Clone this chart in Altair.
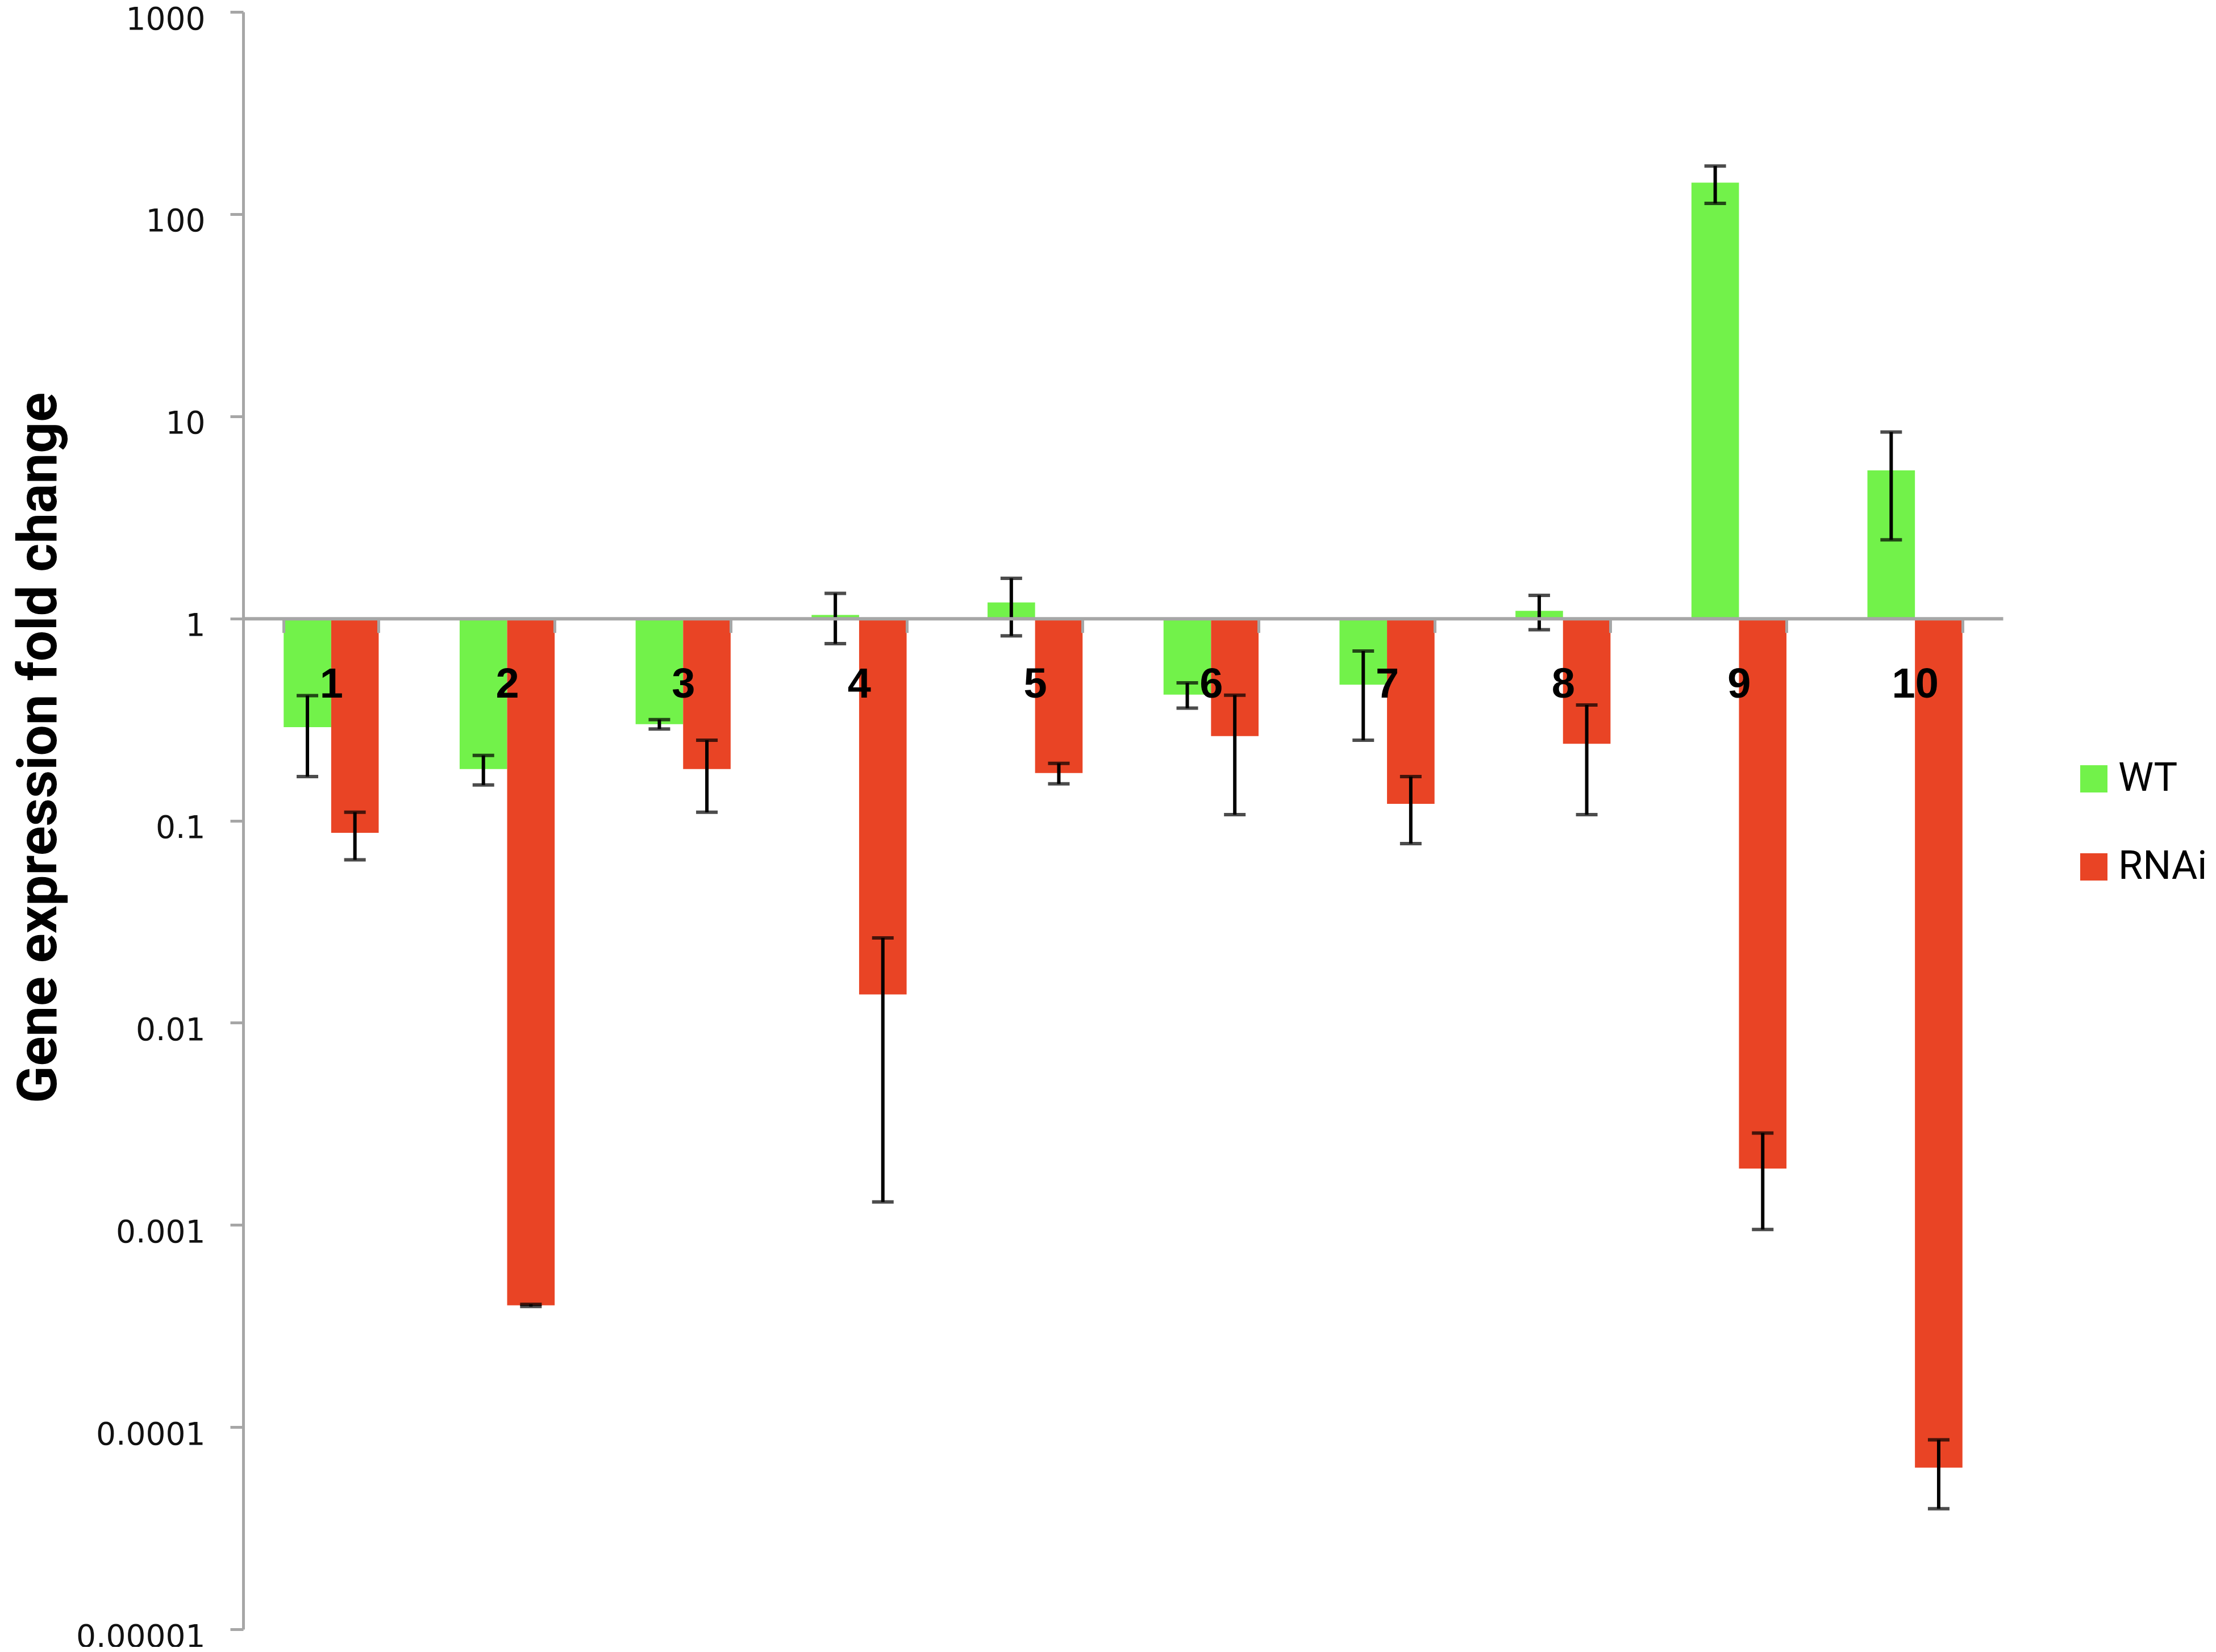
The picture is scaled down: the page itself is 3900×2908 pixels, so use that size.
import math
import altair as alt
import pandas as pd

# ---- data ----
categories = ["1", "2", "3", "4", "5", "6", "7", "8", "9", "10"]
series = ["WT", "RNAi"]
wt_values = [0.29, 0.18, 0.30, 1.04, 1.20, 0.42, 0.47, 1.09, 143, 5.4]
wt_errors = [0.125, 0.03, 0.016, 0.29, 0.38, 0.06, 0.22, 0.21, 30, 2.95]
rnai_values = [0.087, 0.0004, 0.18, 0.0138, 0.172, 0.262, 0.121, 0.24, 0.0019, 0.000063]
rnai_errors = [0.023, 0.000005, 0.07, 0.0125, 0.02, 0.155, 0.044, 0.133, 0.00095, 0.0000235]
y_ticks = [0.00001, 0.0001, 0.001, 0.01, 0.1, 1, 10, 100, 1000]
colors = ["#72F24A", "#E94425"]
y_title = "Gene expression fold change"

rows = []
for i, c in enumerate(categories):
    rows.append({"cat": c, "series": "WT", "value": wt_values[i], "err": wt_errors[i]})
    rows.append({"cat": c, "series": "RNAi", "value": rnai_values[i], "err": rnai_errors[i]})
df = pd.DataFrame(rows)
df["lo"] = df["value"] - df["err"]
df["hi"] = df["value"] + df["err"]

W, H = 3097, 2847
y_min, y_max = y_ticks[0], y_ticks[-1]
baseline = 1
axis_offset = -H * (math.log10(baseline) - math.log10(y_min)) / (math.log10(y_max) - math.log10(y_min))

GRAY = "#a6a6a6"

x_scale = alt.Scale(paddingInner=0.46, paddingOuter=0.23)
xoff = alt.XOffset("series:N", sort=series,
                   scale=alt.Scale(domain=series, paddingInner=0, paddingOuter=0))
y_scale = alt.Scale(type="log", domain=[y_min, y_max], nice=False)

x_axis = alt.Axis(
    title=None, orient="bottom", offset=axis_offset, tickBand="extent",
    labelAngle=0, labelFont="Liberation Sans", labelFontWeight="bold",
    labelFontSize=74, labelColor="black", labelPadding=56,
    tickSize=25, tickWidth=5, tickColor=GRAY,
    domainColor=GRAY, domainWidth=6, zindex=1,
)
y_axis = alt.Axis(
    values=y_ticks, format="~f", grid=False,
    title=y_title, titleFont="Roboto",
    titleFontWeight="bold", titleFontSize=96, titleColor="black",
    titleAngle=270, titleX=-330, titleY=1295, titleAlign="center",
    titleBaseline="alphabetic",
    labelFont="DejaVu Sans", labelFontSize=55, labelColor="#111111",
    labelPadding=44, labelOffset=13, labelLimit=1000,
    tickSize=23, tickWidth=5, tickColor=GRAY,
    domainColor=GRAY, domainWidth=5,
)

legend = alt.Legend(
    orient="none", legendX=3222, legendY=1315, title=None,
    symbolType="square", symbolSize=2304, symbolStrokeWidth=0,
    labelFont="Roboto", labelFontSize=70, labelColor="black",
    labelOffset=8, rowPadding=85, padding=0, labelLimit=1000,
)

x_enc = alt.X("cat:N", sort=categories, scale=x_scale, axis=x_axis)

bars = alt.Chart(df).mark_bar().encode(
    x=x_enc,
    xOffset=xoff,
    y=alt.Y("value:Q", scale=y_scale, axis=y_axis),
    y2=alt.datum(baseline),
    color=alt.Color("series:N", sort=series,
                    scale=alt.Scale(domain=series, range=colors), legend=legend),
)

err_rules = alt.Chart(df).mark_rule(color="black", strokeWidth=6).encode(
    x=x_enc,
    xOffset=xoff,
    y=alt.Y("lo:Q", scale=y_scale, axis=y_axis),
    y2="hi:Q",
)

cap_hi = alt.Chart(df).mark_tick(color="black", thickness=6, size=38, orient="horizontal").encode(
    x=x_enc,
    xOffset=xoff,
    y=alt.Y("hi:Q", scale=y_scale, axis=y_axis),
)
cap_lo = alt.Chart(df).mark_tick(color="black", thickness=6, size=38, orient="horizontal").encode(
    x=x_enc,
    xOffset=xoff,
    y=alt.Y("lo:Q", scale=y_scale, axis=y_axis),
)

chart = alt.layer(bars, err_rules, cap_hi, cap_lo).properties(
    width=W, height=H,
    padding={"left": 420, "top": 13, "right": 367, "bottom": 31},
    autosize=alt.AutoSizeParams(type="none"),
    background="white",
).configure_view(stroke=None)

chart.save("out.html", embed_options={"renderer": "svg", "actions": False})
